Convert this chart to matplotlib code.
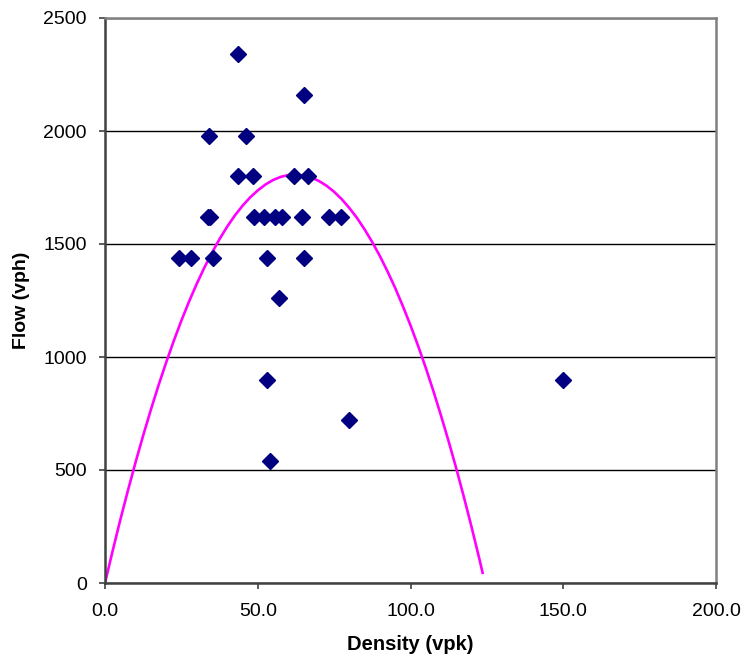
import numpy as np
import matplotlib
matplotlib.use("Agg")
import matplotlib.pyplot as plt

plt.rcParams["font.family"] = ["Liberation Sans", "DejaVu Sans"]

# -----------------------------
# Data
# -----------------------------

density = [43.4, 65.3, 34.0, 46.0,
           43.6, 48.5, 61.9, 66.5,
           33.6, 34.4, 48.8, 52.0, 55.6, 57.8, 64.6, 73.4, 77.1,
           24.2, 28.2, 35.2, 53.1, 65.3,
           57.1, 52.9, 80.0, 54.0, 150.0]

flow = [2340, 2160, 1980, 1980,
        1800, 1800, 1800, 1800,
        1620, 1620, 1620, 1620, 1620, 1620, 1620, 1620, 1620,
        1440, 1440, 1440, 1440, 1440,
        1260, 900, 720, 540, 900]

# fitted curve
model_density = [0, 2.5, 5, 7.5, 10, 12.5, 15, 17.5, 20, 22.5, 25, 27.5,
                 30, 32.5, 35, 37.5, 40, 42.5, 45, 47.5, 50, 52.5, 55, 57.5,
                 60, 62.5, 65, 67.5, 70, 72.5, 75, 77.5, 80, 82.5, 85, 87.5,
                 90, 92.5, 95, 97.5, 100, 102.5, 105, 107.5, 110, 112.5,
                 115, 117.5, 120, 122.5, 123.6]

model_flow = [0, 142, 279, 409, 534, 653, 766, 874, 975, 1071, 1161, 1245,
              1323, 1395, 1461, 1522, 1577, 1626, 1669, 1706, 1737, 1763,
              1783, 1797, 1805, 1807, 1803, 1794, 1779, 1758, 1731, 1698,
              1659, 1615, 1564, 1508, 1446, 1378, 1305, 1225, 1140, 1049,
              952, 849, 740, 626, 506, 379, 247, 109, 45]

x_ticks = [0, 50, 100, 150, 200]
y_ticks = [0, 500, 1000, 1500, 2000, 2500]

# -----------------------------
# Plot
# -----------------------------

fig = plt.figure(figsize=(7.44, 6.66), dpi=100)
ax = fig.add_axes([105 / 744, 1 - 583 / 666, 611 / 744, 565 / 666])

ax.plot(model_density, model_flow, color="#FF00FF", linewidth=1.9, zorder=2)
ax.plot(density, flow, linestyle="none", marker="D", markersize=7.7,
        color="#000080", zorder=3, clip_on=False)

ax.set_xlim(0, 200)
ax.set_ylim(0, 2500)
ax.set_xticks(x_ticks)
ax.set_xticklabels([f"{t:.1f}" for t in x_ticks])
ax.set_yticks(y_ticks)
ax.set_yticklabels([str(t) for t in y_ticks])

ax.yaxis.grid(True, color="black", linewidth=1.0)
ax.set_axisbelow(True)

for side in ["top", "right"]:
    ax.spines[side].set_color("#808080")
    ax.spines[side].set_linewidth(1.8)
for side in ["left", "bottom"]:
    ax.spines[side].set_color("#404040")
    ax.spines[side].set_linewidth(1.8)

ax.tick_params(direction="out", length=4.5, width=1.2, color="#404040",
               labelsize=14)
ax.tick_params(axis="x", pad=10)
ax.tick_params(axis="y", pad=8.5)

ax.set_xlabel("Density (vpk)", fontsize=14.5, fontweight="bold", labelpad=11)
ax.set_ylabel("Flow (vph)", fontsize=14, fontweight="bold", labelpad=9.5)

plt.savefig("out.png", dpi=100)
